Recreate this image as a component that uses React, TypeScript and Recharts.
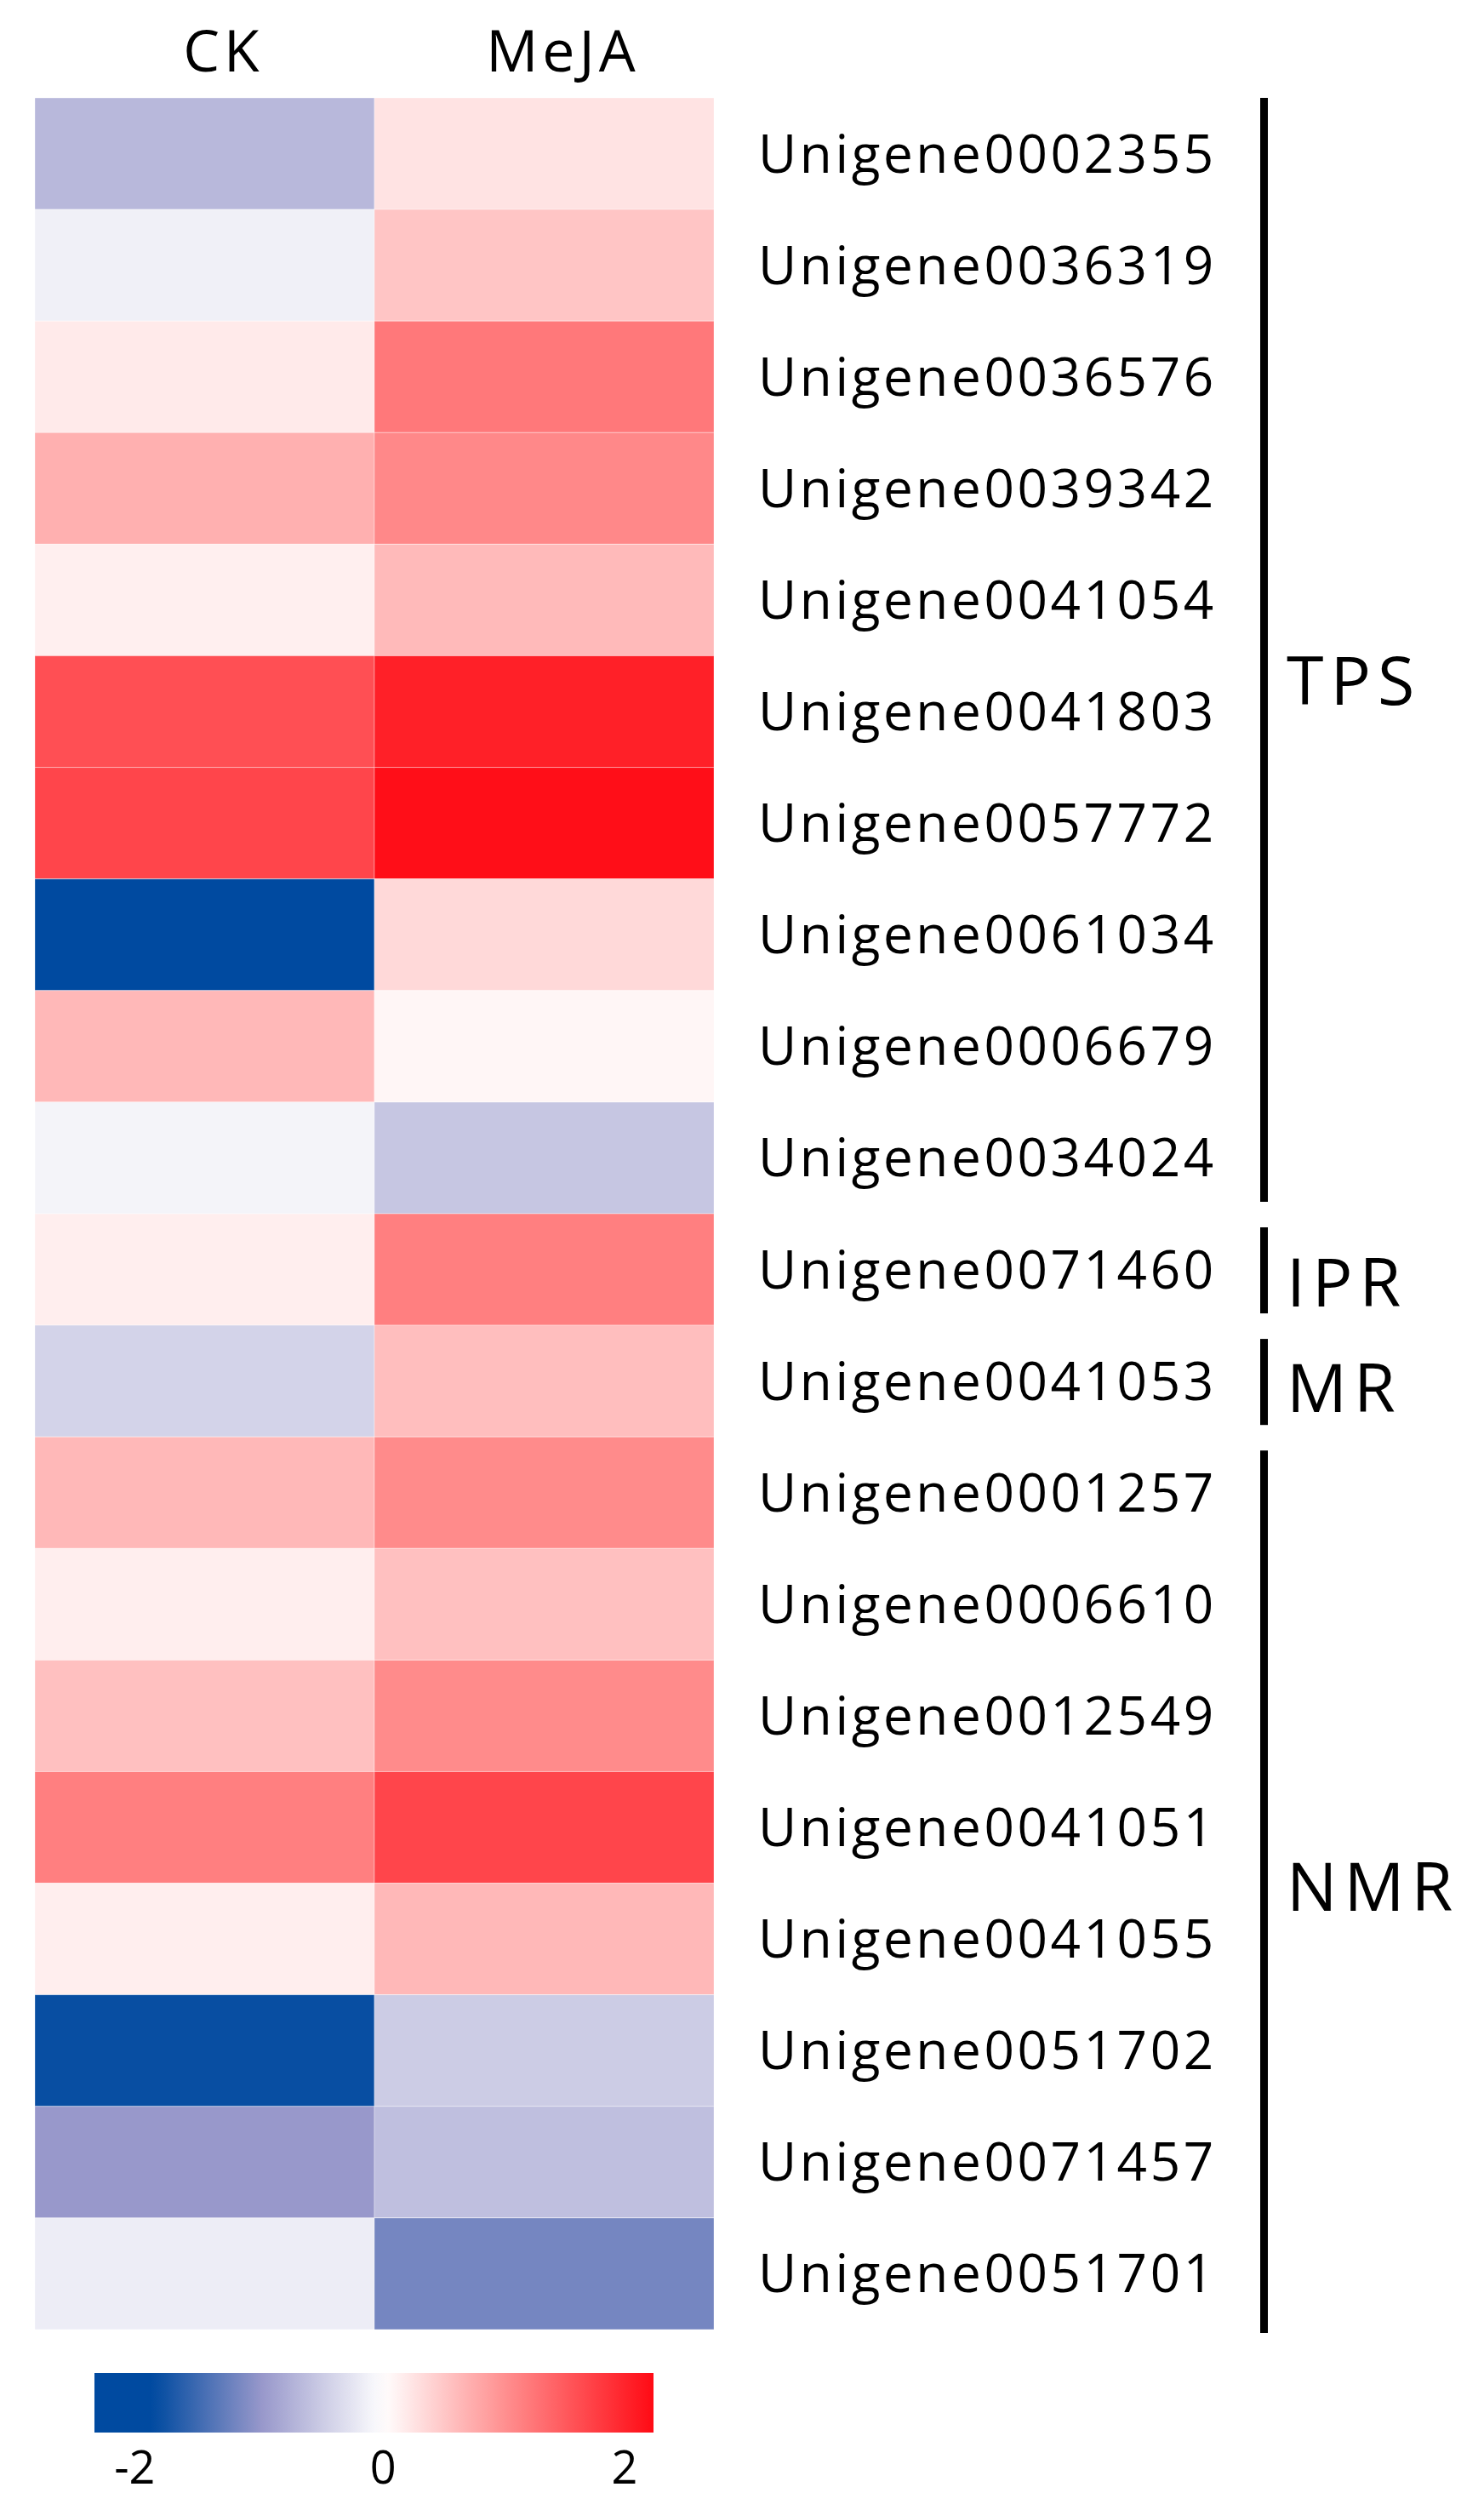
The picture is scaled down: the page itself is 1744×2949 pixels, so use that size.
import React from 'react';
import {
  BarChart,
  Bar,
  Cell,
  XAxis,
  YAxis,
  ReferenceArea
} from 'recharts';

const GENES = [
  'Unigene0002355',
  'Unigene0036319',
  'Unigene0036576',
  'Unigene0039342',
  'Unigene0041054',
  'Unigene0041803',
  'Unigene0057772',
  'Unigene0061034',
  'Unigene0006679',
  'Unigene0034024',
  'Unigene0071460',
  'Unigene0041053',
  'Unigene0001257',
  'Unigene0006610',
  'Unigene0012549',
  'Unigene0041051',
  'Unigene0041055',
  'Unigene0051702',
  'Unigene0071457',
  'Unigene0051701'
];

const COLUMNS = ['CK', 'MeJA'];

// z-scored expression
const CK = [-0.69, -0.15, 0.19, 0.71, 0.14, 1.6, 1.69, -2.05, 0.64, -0.11, 0.15, -0.43, 0.64, 0.15, 0.57, 1.16, 0.15, -1.85, -1.0, -0.17];
const MEJA = [0.25, 0.52, 1.22, 1.07, 0.62, 2.04, 2.2, 0.34, 0.08, -0.55, 1.16, 0.59, 1.05, 0.57, 1.05, 1.69, 0.64, -0.5, -0.62, -1.21];

const GROUPS = [
  { name: 'TPS', from: 'Unigene0002355', to: 'Unigene0034024' },
  { name: 'IPR', from: 'Unigene0071460', to: 'Unigene0071460' },
  { name: 'MR', from: 'Unigene0041053', to: 'Unigene0041053' },
  { name: 'NMR', from: 'Unigene0001257', to: 'Unigene0051701' }
];

const SCALE_TICKS = [-2, 0, 2];
const SCALE_MIN = -2.39;
const SCALE_MAX = 2.24;

const FONT = '"Open Sans", sans-serif';
const W = 1744;
const H = 2949;

// colour ramp: blue -> lavender -> white -> pink -> red
const STOPS: [number, number[]][] = [
  [-1.9, [0, 74, 160]],
  [-1, [152, 152, 203]],
  [0, [255, 255, 255]],
  [1, [255, 144, 144]],
  [2.24, [255, 10, 20]]
];

function colorFor(v: number) {
  if (v <= STOPS[0][0]) return rgb(STOPS[0][1]);
  for (let i = 1; i < STOPS.length; i++) {
    const [v1, c1] = STOPS[i];
    const [v0, c0] = STOPS[i - 1];
    if (v <= v1) {
      const t = (v - v0) / (v1 - v0);
      return rgb(c0.map((c, k) => c + (c1[k] - c) * t));
    }
  }
  return rgb(STOPS[STOPS.length - 1][1]);
}

function rgb(c: number[]) {
  return `rgb(${c.map((x) => Math.round(x)).join(',')})`;
}

const rows = GENES.map((gene, i) => ({ gene, ckCell: 1, mejaCell: 1, ck: CK[i], meja: MEJA[i] }));

const BRACKET_X = 1481;
const BRACKET_W = 9;
const LABEL_X = 1512;
const LABEL_DY: Record<string, number> = { TPS: 29, IPR: 15, MR: 8, NMR: 4 };

function Bracket(props: any) {
  const { y, height, name, first, last } = props;
  const top = y + (first ? 0 : 16);
  const bottom = y + height - (last ? -4 : 14);
  return (
    <g>
      <rect x={BRACKET_X} y={top} width={BRACKET_W} height={bottom - top} fill="#000" />
      <text
        x={LABEL_X}
        y={y + height / 2 + (LABEL_DY[name] || 0)}
        dy="0.36em"
        fontFamily={FONT}
        fontSize={79}
        letterSpacing={8}
        fill="#000"
      >
        {name}
      </text>
    </g>
  );
}

// the "-2" label sits a little left of its tick in the original
function ScaleTick(props: any) {
  const { x, y, payload } = props;
  const shift = payload.value < 0 ? -8 : 0;
  return (
    <text x={x + shift} y={y} dy="0.71em" textAnchor="middle" fontFamily={FONT} fontSize={54} fill="#000">
      {payload.value}
    </text>
  );
}

const gradStops = Array.from({ length: 41 }, (_, i) => {
  const t = i / 40;
  return { t, color: colorFor(SCALE_MIN + t * (SCALE_MAX - SCALE_MIN)) };
});

export default function App() {
  return (
    <div style={{ position: 'absolute', left: 0, top: 0, width: W, height: H, background: '#fff' }}>
      <svg width={0} height={0} style={{ position: 'absolute' }}>
        <defs>
          <linearGradient id="scaleGrad" x1="0" y1="0" x2="1" y2="0">
            {gradStops.map((s) => (
              <stop key={s.t} offset={s.t} stopColor={s.color} />
            ))}
          </linearGradient>
        </defs>
      </svg>

      <div style={{ position: 'absolute', left: 0, top: 0 }}>
        <BarChart
          width={W}
          height={2760}
          data={rows}
          layout="vertical"
          barCategoryGap={0}
          barGap={0}
          margin={{ top: 0, right: 0, left: 41, bottom: 23 }}
        >
          <XAxis
            type="number"
            orientation="top"
            domain={[0, COLUMNS.length]}
            ticks={COLUMNS.map((_, i) => i + 0.5)}
            tickFormatter={(v: number) => COLUMNS[Math.floor(v)]}
            height={115}
            axisLine={false}
            tickLine={false}
            tickSize={0}
            tickMargin={31}
            dx={22}
            tick={{ fontFamily: FONT, fontSize: 68, fill: '#000', letterSpacing: 5 }}
          />
          <YAxis
            type="category"
            dataKey="gene"
            orientation="right"
            width={905}
            interval={0}
            axisLine={false}
            tickLine={false}
            tickSize={0}
            tickMargin={52}
            tick={{ fontFamily: FONT, fontSize: 62, fill: '#000', letterSpacing: 3.6 }}
          />
          <Bar dataKey="ckCell" stackId="cells" isAnimationActive={false}>
            {rows.map((r) => (
              <Cell key={r.gene} fill={colorFor(r.ck)} stroke="rgba(255,255,255,0.35)" strokeWidth={1} />
            ))}
          </Bar>
          <Bar dataKey="mejaCell" stackId="cells" isAnimationActive={false}>
            {rows.map((r) => (
              <Cell key={r.gene} fill={colorFor(r.meja)} stroke="rgba(255,255,255,0.35)" strokeWidth={1} />
            ))}
          </Bar>
          {GROUPS.map((g, i) => (
            <ReferenceArea
              key={g.name}
              x1={0}
              x2={COLUMNS.length}
              y1={g.from}
              y2={g.to}
              ifOverflow="visible"
              shape={(p: any) => (
                <Bracket {...p} name={g.name} first={i === 0} last={i === GROUPS.length - 1} />
              )}
            />
          ))}
        </BarChart>
      </div>

      <div style={{ position: 'absolute', left: 0, top: 2788 }}>
        <BarChart
          width={W}
          height={161}
          data={[{ name: 'scale', range: [SCALE_MIN, SCALE_MAX] }]}
          layout="vertical"
          barCategoryGap={0}
          margin={{ top: 0, right: W - 768, left: 111, bottom: 0 }}
        >
          <XAxis
            type="number"
            domain={[SCALE_MIN, SCALE_MAX]}
            ticks={SCALE_TICKS}
            height={91}
            axisLine={false}
            tickLine={false}
            tickSize={0}
            tickMargin={22}
            tick={<ScaleTick />}
          />
          <YAxis type="category" dataKey="name" hide />
          <Bar dataKey="range" fill="url(#scaleGrad)" isAnimationActive={false} />
        </BarChart>
      </div>
    </div>
  );
}
